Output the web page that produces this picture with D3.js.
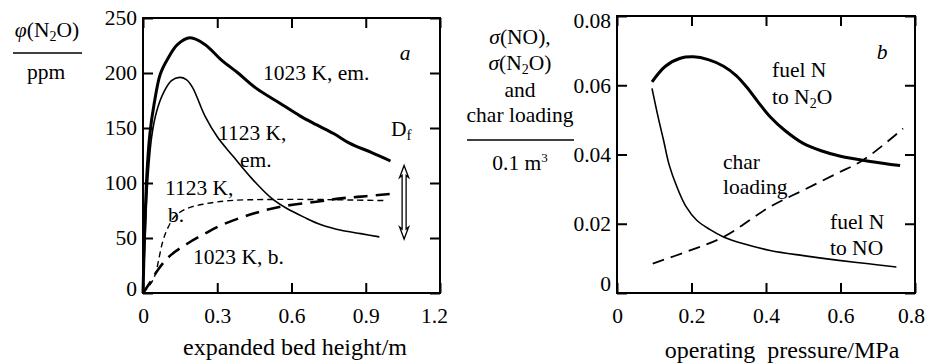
<!DOCTYPE html>
<html>
<head>
<meta charset="utf-8">
<script src="https://cdn.jsdelivr.net/npm/d3@7"></script>
<style>
  body { margin: 0; background: #fff; }
  svg { display: block; font-family: "Liberation Serif", "Times New Roman", serif; }
  .axis line { stroke: #000; stroke-width: 2; }
  .axis path { display: none; }
  .lbl { font-size: 21.5px; fill: #000; }
  .title { font-size: 24px; }
</style>
</head>
<body>
<div id="chart"></div>
<script>
// Panel a: N2O concentration vs expanded bed height
const aXTicks = [0, 0.3, 0.6, 0.9, 1.2];
const aYTicks = [0, 50, 100, 150, 200, 250];

const em1023X = [0, 0.006, 0.015, 0.028, 0.045, 0.07, 0.1, 0.14, 0.19, 0.25, 0.316, 0.384, 0.458, 0.55, 0.634, 0.7, 0.77, 0.836, 0.92, 1.0];
const em1023Y = [0, 50, 105, 145, 172, 199, 213, 226, 232, 226, 212, 200, 186, 173, 161, 153, 145, 136, 128, 120];

const em1123X = [0, 0.008, 0.02, 0.035, 0.055, 0.085, 0.115, 0.148, 0.175, 0.2, 0.25, 0.3, 0.365, 0.44, 0.52, 0.58, 0.65, 0.72, 0.8, 0.88, 0.955];
const em1123Y = [0, 50, 105, 142, 165, 183, 193, 196, 194, 187, 161, 142, 124, 104, 86, 77, 69, 62, 57, 54, 51];

const b1123X = [0, 0.03, 0.05, 0.065, 0.08, 0.1, 0.13, 0.18, 0.25, 0.35, 0.5, 0.7, 0.85, 0.985];
const b1123Y = [0, 8, 17, 32, 47, 59, 70, 77, 81, 84, 85, 85, 84.5, 84];

const b1023X = [0, 0.03, 0.06, 0.11, 0.18, 0.25, 0.32, 0.45, 0.57, 0.7, 0.8, 0.9, 1.0];
const b1023Y = [0, 10, 21, 34, 45, 54, 62, 72.5, 79, 83, 86, 88, 90];

// Panel b: conversion vs operating pressure
const bXTicks = [0, 0.2, 0.4, 0.6, 0.8];
const bYTicks = [0, 0.02, 0.04, 0.06, 0.08];

const toN2OX = [0.094, 0.13, 0.17, 0.205, 0.245, 0.286, 0.32, 0.348, 0.38, 0.411, 0.45, 0.5, 0.55, 0.6, 0.68, 0.76];
const toN2OY = [0.061, 0.0655, 0.0678, 0.0682, 0.0674, 0.0655, 0.0628, 0.0595, 0.055, 0.0509, 0.047, 0.0432, 0.041, 0.0395, 0.038, 0.0368];

const toNOX = [0.094, 0.11, 0.125, 0.14, 0.161, 0.185, 0.214, 0.25, 0.286, 0.34, 0.411, 0.5, 0.59, 0.67, 0.75];
const toNOY = [0.0591, 0.051, 0.0441, 0.037, 0.0306, 0.025, 0.021, 0.0183, 0.0162, 0.0142, 0.0123, 0.0108, 0.0095, 0.0085, 0.0075];

const charX = [0.096, 0.196, 0.286, 0.411, 0.5, 0.59, 0.661, 0.768];
const charY = [0.0085, 0.0123, 0.0162, 0.0249, 0.0297, 0.0345, 0.0384, 0.0475];

const zip = (xs, ys) => xs.map((x, i) => [x, ys[i]]);
const FONT = '"Liberation Serif", "Times New Roman", serif';

const svg = d3.select("#chart").append("svg")
    .attr("width", 926)
    .attr("height", 363);

function styleAxis(g) {
    g.attr("font-family", FONT).attr("font-size", 21.5);
    g.selectAll("text").attr("fill", "#000");
}

function drawFrame(x, y, xTicks, yTicks, xFmt, yFmt) {
    const [x0, x1] = x.range();
    const [y0, y1] = y.range();

    // inward ticks on all four sides, labels on bottom and left
    const gx = svg.append("g").attr("class", "axis")
        .attr("transform", `translate(0,${y0})`)
        .call(d3.axisBottom(x).tickValues(xTicks).tickSizeInner(-10).tickSizeOuter(0).tickPadding(15).tickFormat(xFmt))
        .call(styleAxis);
    svg.append("g").attr("class", "axis")
        .attr("transform", `translate(0,${y1})`)
        .call(d3.axisTop(x).tickValues(xTicks).tickSizeInner(-10).tickSizeOuter(0).tickFormat(""));
    const gy = svg.append("g").attr("class", "axis")
        .attr("transform", `translate(${x0},0)`)
        .call(d3.axisLeft(y).tickValues(yTicks).tickSizeInner(-10).tickSizeOuter(0).tickPadding(6).tickFormat(yFmt))
        .call(styleAxis);
    svg.append("g").attr("class", "axis")
        .attr("transform", `translate(${x1},0)`)
        .call(d3.axisRight(y).tickValues(yTicks).tickSizeInner(-10).tickSizeOuter(0).tickFormat(""));

    svg.append("rect")
        .attr("x", x0).attr("y", y1)
        .attr("width", x1 - x0).attr("height", y0 - y1)
        .attr("fill", "none").attr("stroke", "#000").attr("stroke-width", 2);
    return { gx, gy };
}

function drawCurve(x, y, pts, width, dash) {
    const line = d3.line()
        .x(d => x(d[0]))
        .y(d => y(d[1]))
        .curve(d3.curveCatmullRom.alpha(0.5));
    svg.append("path")
        .datum(pts)
        .attr("d", line)
        .attr("fill", "none")
        .attr("stroke", "#000")
        .attr("stroke-width", width)
        .attr("stroke-dasharray", dash || null)
        .attr("stroke-linecap", "butt");
}

function label(x, y, parts, anchor, italic) {
    const t = svg.append("text").attr("class", "lbl")
        .attr("x", x).attr("y", y)
        .attr("text-anchor", anchor || "start")
        .style("font-style", italic ? "italic" : null);
    parts.forEach(p => {
        if (typeof p === "string") t.append("tspan").text(p);
        else t.append("tspan").attr("dy", p.dy).style("font-size", p.size + "px")
            .style("font-style", p.italic ? "italic" : null).text(p.t);
    });
    return t;
}

// ---------- panel a ----------
const xA = d3.scaleLinear().domain([0, 1.2]).range([143, 440]);
const yA = d3.scaleLinear().domain([0, 250]).range([293, 18]);

const axA = drawFrame(xA, yA, aXTicks, aYTicks, d => d === 0 ? "0" : d3.format(".1f")(d), d3.format("d"));
// small nudges on end labels, as in the printed figure
axA.gy.selectAll(".tick text").filter(d => d === 0).attr("dy", "0.1em");
axA.gx.selectAll(".tick text").filter(d => d === 1.2).attr("dx", -6);

drawCurve(xA, yA, zip(em1023X, em1023Y), 3);
drawCurve(xA, yA, zip(em1123X, em1123Y), 1.6);
drawCurve(xA, yA, zip(b1123X, b1123Y), 1.4, "6,4");
drawCurve(xA, yA, zip(b1023X, b1023Y), 2.6, "14,8");

label(263, 80, ["1023 K, em."]);
label(218, 140, ["1123 K,"]);
label(240, 167, ["em."]);
label(165, 195, ["1123 K,"]);
label(168, 222, ["b."]);
label(193, 264, ["1023 K, b."]);
label(405, 60, ["a"], "middle", true);
label(391, 136, ["D", { t: "f", dy: 4, size: 15 }]);

// hollow double arrow for D_f
const arrowX = xA(1.055), aTop = yA(116), aBot = yA(49);
const hw = 4.5, sw = 2, hh = 12;
svg.append("path")
    .attr("d", `M${arrowX},${aTop} L${arrowX + hw},${aTop + hh} L${arrowX + sw},${aTop + hh - 2}
        L${arrowX + sw},${aBot - hh + 2} L${arrowX + hw},${aBot - hh} L${arrowX},${aBot}
        L${arrowX - hw},${aBot - hh} L${arrowX - sw},${aBot - hh + 2} L${arrowX - sw},${aTop + hh - 2}
        L${arrowX - hw},${aTop + hh} Z`)
    .attr("fill", "#fff").attr("stroke", "#000").attr("stroke-width", 1.3);

// y title panel a
label(47, 37, [{ t: "φ", dy: 0, size: 21.5, italic: true }, "(N", { t: "2", dy: 4, size: 14 }, { t: "O)", dy: -4, size: 21.5 }], "middle");
svg.append("line").attr("x1", 13).attr("x2", 82).attr("y1", 53).attr("y2", 53)
    .attr("stroke", "#000").attr("stroke-width", 1.5);
label(46, 79, ["ppm"], "middle");
label(295, 355, ["expanded bed height/m"], "middle").classed("title", true);

// ---------- panel b ----------
const xB = d3.scaleLinear().domain([0, 0.8]).range([617, 915]);
const yB = d3.scaleLinear().domain([0, 0.08]).range([293, 16]);

const axB = drawFrame(xB, yB, bXTicks, bYTicks, d => d === 0 ? "0" : d3.format(".1f")(d), d => d === 0 ? "0" : d3.format(".2f")(d));
axB.gy.selectAll(".tick text").filter(d => d === 0).attr("dy", "-0.12em");
axB.gy.selectAll(".tick text").filter(d => d === 0.08).attr("dy", "0.55em");
axB.gx.selectAll(".tick text").filter(d => d === 0.8).attr("dx", -4);

drawCurve(xB, yB, zip(toN2OX, toN2OY), 3);
drawCurve(xB, yB, zip(toNOX, toNOY), 1.6);
drawCurve(xB, yB, zip(charX, charY), 1.8, "12,7");

label(772, 77, ["fuel N"]);
label(772, 104, ["to N", { t: "2", dy: 4, size: 14 }, { t: "O", dy: -4, size: 21.5 }]);
label(723, 169, ["char"]);
label(723, 194, ["loading"]);
label(830, 229, ["fuel N"]);
label(830, 255, ["to NO"]);
label(882, 59, ["b"], "middle", true);

// y title panel b
label(520, 44, [{ t: "σ", dy: 0, size: 21.5, italic: true }, "(NO),"], "middle");
label(520, 70, [{ t: "σ", dy: 0, size: 21.5, italic: true }, "(N", { t: "2", dy: 4, size: 14 }, { t: "O)", dy: -4, size: 21.5 }], "middle");
label(520, 97, ["and"], "middle");
label(520, 122, ["char loading"], "middle");
svg.append("line").attr("x1", 467).attr("x2", 574).attr("y1", 140).attr("y2", 140)
    .attr("stroke", "#000").attr("stroke-width", 1.5);
label(520, 170, ["0.1 m", { t: "3", dy: -8, size: 13 }], "middle");
label(782, 358, ["operating\u00a0 pressure/MPa"], "middle").classed("title", true);
</script>
</body>
</html>
